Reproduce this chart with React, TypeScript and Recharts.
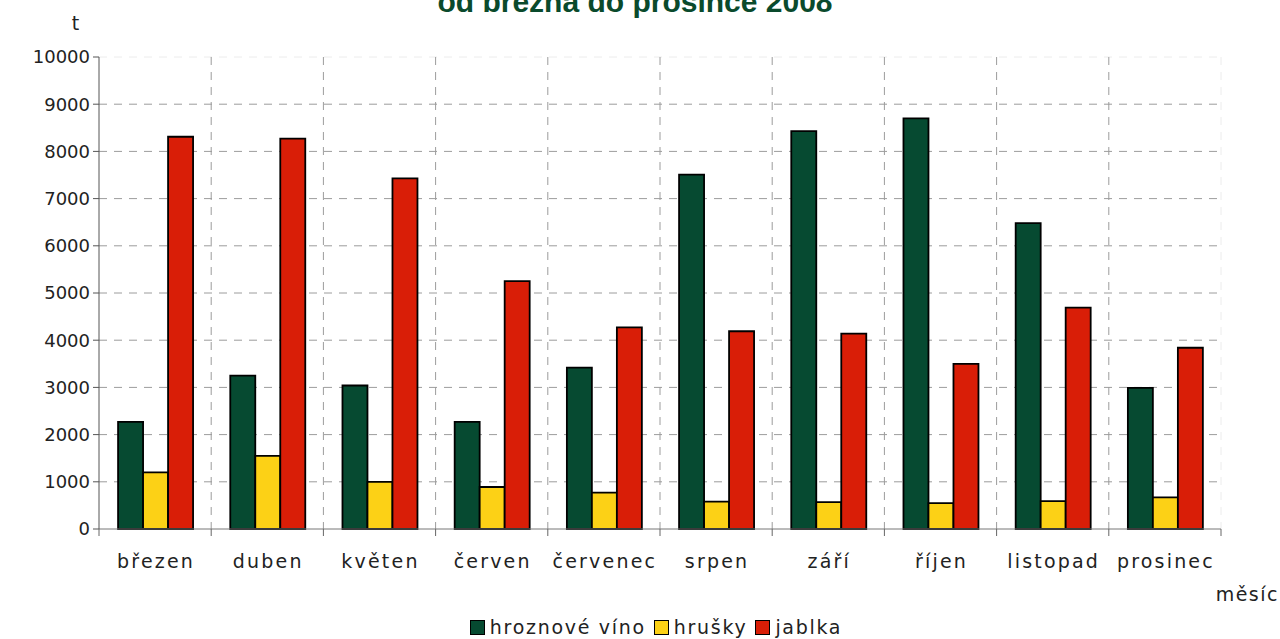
import { BarChart, Bar, XAxis, YAxis, CartesianGrid, Legend } from 'recharts'

const months = ['březen', 'duben', 'květen', 'červen', 'červenec', 'srpen', 'září', 'říjen', 'listopad', 'prosinec']
const hroznoveVino = [2270, 3250, 3040, 2270, 3420, 7510, 8430, 8700, 6480, 2990]
const hrusky = [1200, 1550, 1000, 890, 770, 580, 570, 550, 590, 670]
const jablka = [8310, 8270, 7430, 5250, 4270, 4190, 4140, 3500, 4690, 3840]
const yTicks = [0, 1000, 2000, 3000, 4000, 5000, 6000, 7000, 8000, 9000, 10000]

const series = [
  { key: 'vino', name: 'hroznové víno', color: '#064a31' },
  { key: 'hrusky', name: 'hrušky', color: '#fcd116' },
  { key: 'jablka', name: 'jablka', color: '#d91e07' },
]

const data = months.map((m, i) => ({ month: m, vino: hroznoveVino[i], hrusky: hrusky[i], jablka: jablka[i] }))

const FONT = '"DejaVu Sans", Verdana, sans-serif'
const GRID = '#9c9c9c'
const FAINT = '#ececec'

// category labels with tick marks on the category borders
// eslint-disable-next-line @typescript-eslint/no-explicit-any
const MonthTick = (props: any) => {
  const { x, y, payload, index } = props
  const half = payload?.offset ?? 56
  return (
    <g>
      <line x1={x - half} y1={y} x2={x - half} y2={y + 7} stroke="#666" />
      {index === months.length - 1 && <line x1={x + half} y1={y} x2={x + half} y2={y + 7} stroke="#666" />}
      <text x={x + 1} y={y + 39} textAnchor="middle" fill="#222" fontSize={19} fontFamily={FONT} style={{ letterSpacing: 2.2 }}>
        {payload.value}
      </text>
    </g>
  )
}

const LegendBox = () => (
  <div style={{ display: 'flex', justifyContent: 'center', alignItems: 'center', height: 24, marginTop: 4, fontFamily: FONT, fontSize: 19, color: '#222', letterSpacing: 1.7 }}>
    {series.map(s => (
      <span key={s.key} style={{ display: 'flex', alignItems: 'center', marginRight: 8 }}>
        <span style={{ width: 13, height: 13, background: s.color, border: '1.5px solid #000', marginRight: 5 }} />
        {s.name}
      </span>
    ))}
  </div>
)

export default function App() {
  return (
    <div style={{ position: 'absolute', left: 0, top: 0, width: 1280, height: 639, background: '#fff' }}>
      <svg width={1280} height={30} style={{ position: 'absolute', left: 0, top: 0 }}>
        <text x={635} y={12} textAnchor="middle" fill="#0a4a2c" fontSize={30} fontWeight="bold" fontFamily='"Liberation Sans", Arial, sans-serif'>
          od března do prosince 2008
        </text>
      </svg>
      <BarChart width={1280} height={639} data={data} margin={{ top: 57, right: 59, left: 0, bottom: 0 }} barCategoryGap="17%" barGap={0}>
        {/* faint plot frame: top line and right edge */}
        <CartesianGrid
          stroke={FAINT}
          strokeDasharray="8 7"
          // eslint-disable-next-line @typescript-eslint/no-explicit-any
          horizontalCoordinatesGenerator={({ offset }: any) => [offset.top]}
          // eslint-disable-next-line @typescript-eslint/no-explicit-any
          verticalCoordinatesGenerator={({ offset }: any) => [offset.left + offset.width]}
        />
        <CartesianGrid
          stroke={GRID}
          strokeDasharray="8 7"
          // eslint-disable-next-line @typescript-eslint/no-explicit-any
          horizontalCoordinatesGenerator={({ offset }: any) =>
            yTicks.slice(1, -1).map(v => offset.top + offset.height * (1 - v / 10000))}
          // eslint-disable-next-line @typescript-eslint/no-explicit-any
          verticalCoordinatesGenerator={({ offset }: any) =>
            months.slice(1).map((_, i) => offset.left + (offset.width * (i + 1)) / months.length)}
        />
        <XAxis
          dataKey="month"
          height={82}
          tickSize={0}
          tickMargin={0}
          tickLine={false}
          axisLine={{ stroke: '#777' }}
          tick={MonthTick}
          interval={0}
          label={{ value: 'měsíc', position: 'insideBottomRight', offset: 0, dx: 58, dy: -10, fill: '#222', fontSize: 19, fontFamily: FONT, style: { letterSpacing: 1.5 } }}
        />
        <YAxis
          width={99}
          domain={[0, 10000]}
          ticks={yTicks}
          interval={0}
          tickSize={6}
          tickMargin={3}
          axisLine={{ stroke: '#555' }}
          tickLine={{ stroke: '#555' }}
          tick={{ fill: '#222', fontSize: 18, fontFamily: FONT }}
          label={{ value: 't', position: 'top', offset: 27, dx: 26, fill: '#222', fontSize: 19, fontFamily: FONT }}
        />
        <Legend verticalAlign="bottom" content={LegendBox} wrapperStyle={{ left: 99, width: 1122, bottom: 0 }} />
        {series.map(s => (
          <Bar key={s.key} dataKey={s.key} name={s.name} fill={s.color} stroke="#000" strokeWidth={1.8} isAnimationActive={false} />
        ))}
      </BarChart>
    </div>
  )
}
